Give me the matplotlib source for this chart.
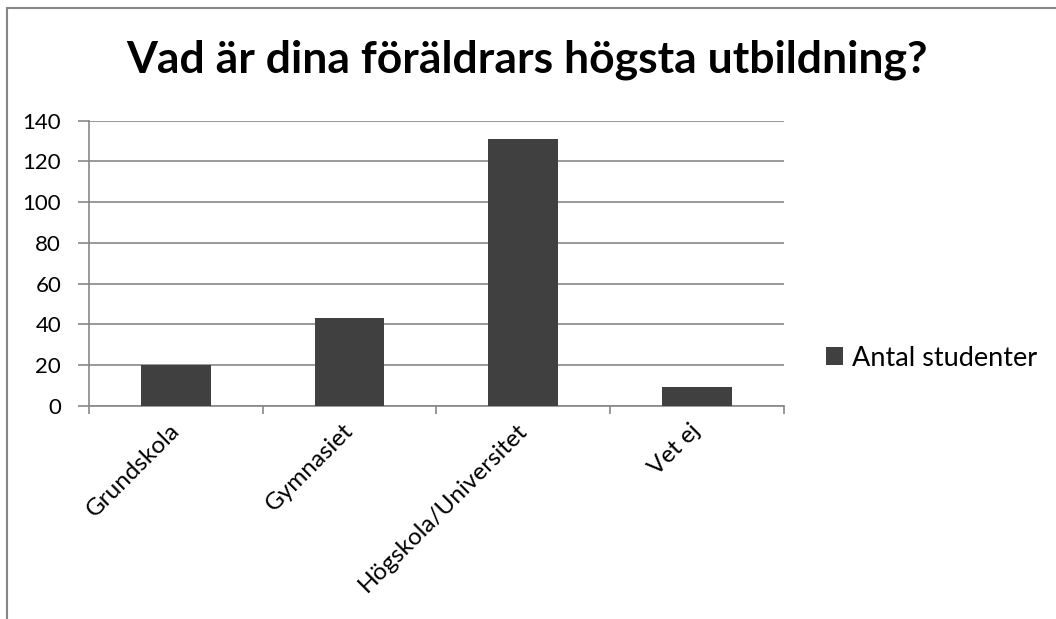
import matplotlib.pyplot as plt
import numpy as np
from matplotlib.patches import Rectangle, Patch

kategorier = ["Grundskola", "Gymnasiet", "Högskola/Universitet", "Vet ej"]
antal = [20, 43, 131, 9]
serie_namn = "Antal studenter"
titel = "Vad är dina föräldrars högsta utbildning?"
y_ticks = [0, 20, 40, 60, 80, 100, 120, 140]

COR_BARRA = "#404040"
COR_GRADE = "#878787"

plt.rcParams["font.family"] = ["Lato", "DejaVu Sans"]

fig = plt.figure(figsize=(10.56, 6.19), dpi=100)
ax = fig.add_axes([89 / 1056, 1 - 405.7 / 619, (783.7 - 89) / 1056, (405.7 - 120.7) / 619])

x = np.arange(len(kategorier))
ax.bar(x, antal, width=0.4, color=COR_BARRA, zorder=3, label=serie_namn)

ax.set_xlim(-0.5, len(kategorier) - 0.5)
ax.set_ylim(0, 140)
ax.set_yticks(y_ticks)
ax.set_yticklabels([str(v) for v in y_ticks], fontsize=16)
ax.grid(axis="y", color=COR_GRADE, linewidth=1.2, zorder=0)

# eixo x: ticks nas fronteiras das categorias, rótulos no centro
ax.set_xticks(np.arange(len(kategorier) + 1) - 0.5)
ax.set_xticklabels([])
ax.tick_params(axis="x", direction="out", length=6, color=COR_GRADE, width=1.2)
ax.tick_params(axis="y", direction="out", length=8, color=COR_GRADE, width=1.2, pad=12)
for xi, lab in zip(x, kategorier):
    ax.text(xi - 0.04, -7, lab, rotation=45, ha="right", va="top", rotation_mode="anchor",
            fontsize=17.5, transform=ax.transData)

for s in ["top", "right"]:
    ax.spines[s].set_visible(False)
ax.spines["left"].set_color(COR_GRADE)
ax.spines["bottom"].set_color(COR_GRADE)
ax.spines["left"].set_linewidth(1.2)
ax.spines["bottom"].set_linewidth(1.2)

fig.text(527 / 1056, 1 - 60 / 619, titel, ha="center", va="center",
         fontsize=32, fontweight="bold")

handles = [Patch(facecolor=COR_BARRA, label=serie_namn)]
fig.legend(handles=handles, loc="center left", bbox_to_anchor=(826 / 1056, 1 - 358 / 619),
           frameon=False, fontsize=19.5, handlelength=0.62, handleheight=0.62, handletextpad=0.35,
           borderpad=0, borderaxespad=0)

# moldura do gráfico (cortada à direita e embaixo)
fig.patches.append(Rectangle((7 / 1056, -0.1), 1.2, 1 - 8 / 619 + 0.1, transform=fig.transFigure,
                             fill=False, edgecolor=COR_GRADE, linewidth=1.5))

fig.savefig("out.png", dpi=100)
